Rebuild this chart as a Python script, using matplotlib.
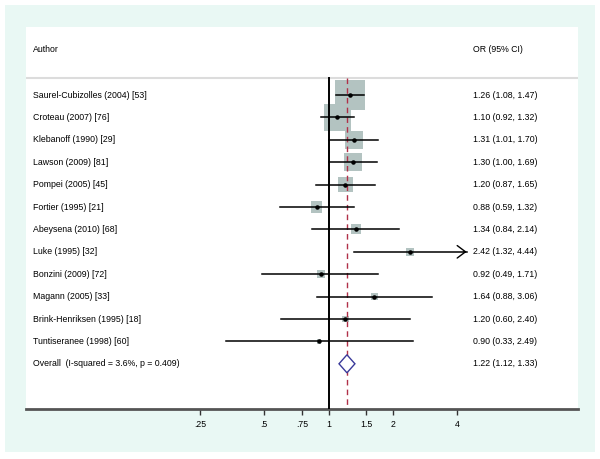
import numpy as np
import matplotlib
matplotlib.use("Agg")
import matplotlib.pyplot as plt
from matplotlib.patches import Rectangle, Polygon

# ---------------- data ----------------
studies = ["Saurel-Cubizolles (2004) [53]", "Croteau (2007) [76]", "Klebanoff (1990) [29]",
           "Lawson (2009) [81]", "Pompei (2005) [45]", "Fortier (1995) [21]",
           "Abeysena (2010) [68]", "Luke (1995) [32]", "Bonzini (2009) [72]",
           "Magann (2005) [33]", "Brink-Henriksen (1995) [18]", "Tuntiseranee (1998) [60]"]
or_est = [1.26, 1.10, 1.31, 1.30, 1.20, 0.88, 1.34, 2.42, 0.92, 1.64, 1.20, 0.90]
ci_low = [1.08, 0.92, 1.01, 1.00, 0.87, 0.59, 0.84, 1.32, 0.49, 0.88, 0.60, 0.33]
ci_high = [1.47, 1.32, 1.70, 1.69, 1.65, 1.32, 2.14, 4.44, 1.71, 3.06, 2.40, 2.49]
weights = [30.5, 24.0, 11.0, 10.9, 7.5, 4.3, 3.4, 2.1, 2.0, 2.0, 1.6, 0.6]
overall_label = "Overall  (I-squared = 3.6%, p = 0.409)"
overall_or, overall_low, overall_high = 1.22, 1.12, 1.33
tick_vals = [0.25, 0.5, 0.75, 1, 1.5, 2, 4]
tick_labels = [".25", ".5", ".75", "1", "1.5", "2", "4"]
x_max_drawn = 4.44  # CI lines reaching this get an arrow

# ---------------- figure ----------------
W, H, DPI = 600, 459, 100
fig = plt.figure(figsize=(W / DPI, H / DPI), dpi=DPI, facecolor="white")
plt.rcParams['font.family'] = ['Liberation Sans', 'DejaVu Sans']
FS = 6.3

cyan = "#e9f8f4"
fig.patches.append(Rectangle((5 / W, 1 - 452 / H), 590 / W, 447 / H,
                             transform=fig.transFigure, facecolor=cyan,
                             edgecolor="none", zorder=-10))

ax_l, ax_r, ax_t, ax_b = 26, 578, 27, 409
ax = fig.add_axes([ax_l / W, 1 - ax_b / H, (ax_r - ax_l) / W, (ax_b - ax_t) / H])
ax.set_facecolor("white")

ax.set_xscale("log", base=2)
px_one, px_per_doubling = 328.5, 64.25
xmin = 2 ** ((ax_l - px_one) / px_per_doubling)
xmax = 2 ** ((ax_r - px_one) / px_per_doubling)
ax.set_xlim(xmin, xmax)

row0, row_step = 95, 22.4
ax.set_ylim((ax_b - row0) / row_step, (ax_t - row0) / row_step)
header_y = (50 - row0) / row_step
sep_y = (78 - row0) / row_step

for s in ["top", "right", "left"]:
    ax.spines[s].set_visible(False)
ax.spines["bottom"].set_color("#555555")
ax.spines["bottom"].set_linewidth(2)
ax.set_yticks([])
ax.set_xticks(tick_vals)
ax.set_xticklabels(tick_labels)
ax.xaxis.set_minor_locator(matplotlib.ticker.NullLocator())
ax.tick_params(axis="x", direction="out", length=4, width=1, color="#333333",
               labelsize=FS, pad=4, labelcolor="black")

# header
ax.axhline(sep_y, color="#dcdcdc", lw=1.5, zorder=1)
ax.text(0.0127, header_y, "Author", transform=ax.get_yaxis_transform(),
        fontsize=FS, va="center", ha="left")
ax.text(0.81, header_y, "OR (95% CI)", transform=ax.get_yaxis_transform(),
        fontsize=FS, va="center", ha="left")

# reference lines
ax.plot([1, 1], [sep_y, (ax_b - row0) / row_step], color="black", lw=1.4, zorder=3)
ax.plot([overall_or, overall_or], [sep_y, (ax_b - row0) / row_step],
        color="#b03048", lw=1.0, ls=(0, (4, 3)), zorder=3)

rows = np.arange(len(studies))
# weight boxes
side_px = 30 / np.sqrt(weights[0]) * np.sqrt(np.array(weights))
ax.scatter(or_est, rows, s=(side_px * 72 / DPI) ** 2, marker="s",
           color="#b3c3c1", edgecolors="none", zorder=2)

for i in rows:
    hi = ci_high[i]
    ax.plot([ci_low[i], hi], [i, i], color="black", lw=1.1, zorder=4)
    if hi >= x_max_drawn:
        ax.annotate("", xy=(hi, i), xytext=(hi * 0.97, i),
                    arrowprops=dict(arrowstyle="->,head_length=0.6,head_width=0.45",
                                    lw=1.0, color="black", shrinkA=0, shrinkB=0),
                    zorder=4)
    ax.text(0.0127, i, studies[i], transform=ax.get_yaxis_transform(),
            fontsize=FS, va="center", ha="left")
    ax.text(0.81, i, f"{or_est[i]:.2f} ({ci_low[i]:.2f}, {ci_high[i]:.2f})",
            transform=ax.get_yaxis_transform(), fontsize=FS, va="center", ha="left")

ax.scatter(or_est, rows, s=5, color="black", zorder=5)

# overall diamond
oy = len(studies)
half_h = 9 / row_step
diamond = Polygon([[overall_low, oy], [overall_or, oy - half_h],
                   [overall_high, oy], [overall_or, oy + half_h]],
                  closed=True, facecolor="white", edgecolor="#3a3a9a", lw=1.0, zorder=6)
ax.add_patch(diamond)
ax.text(0.0127, oy, overall_label, transform=ax.get_yaxis_transform(),
        fontsize=FS, va="center", ha="left")
ax.text(0.81, oy, f"{overall_or:.2f} ({overall_low:.2f}, {overall_high:.2f})",
        transform=ax.get_yaxis_transform(), fontsize=FS, va="center", ha="left")

fig.savefig("out.png", dpi=DPI, facecolor="white")
